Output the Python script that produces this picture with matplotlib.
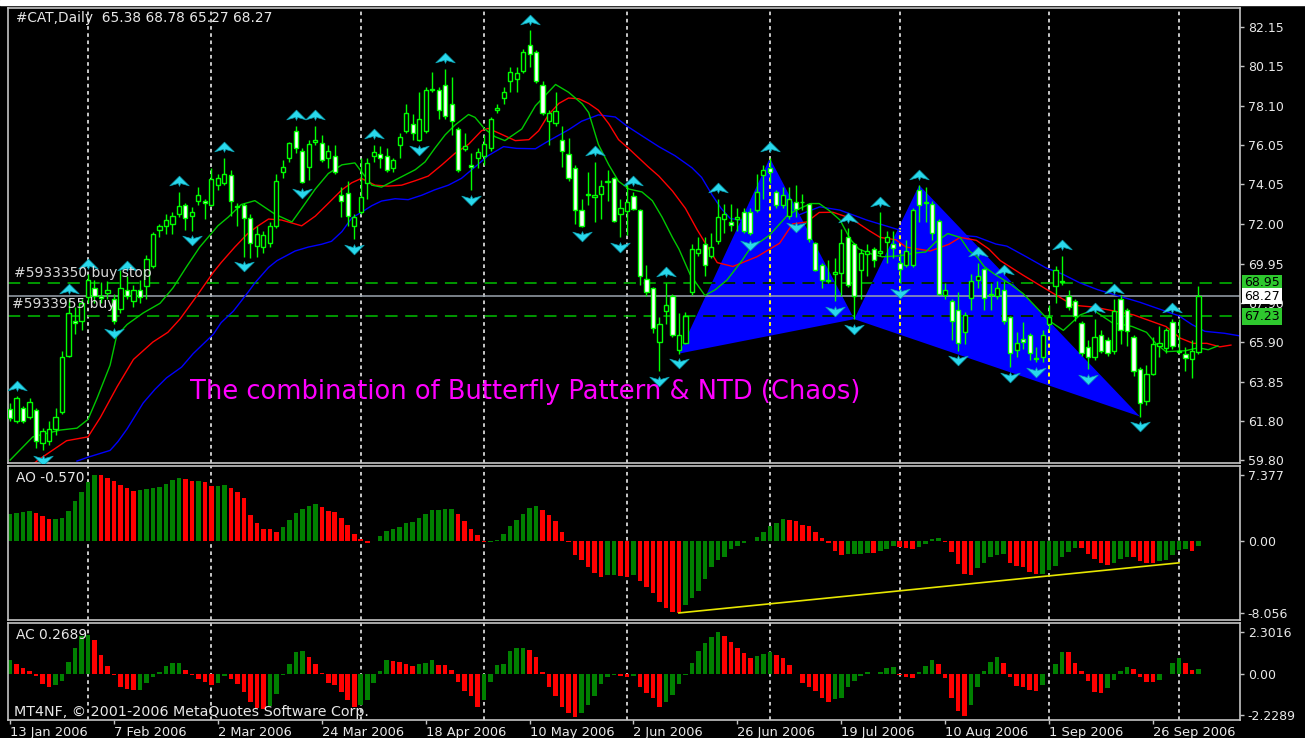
import matplotlib
matplotlib.use("Agg")
import matplotlib.pyplot as plt
import matplotlib.transforms as mtransforms
from matplotlib.path import Path
from matplotlib.patches import Polygon, Rectangle

# ---- data ----
opens = [
    62.45, 61.80, 62.50, 62.00, 62.40, 60.70, 60.80, 61.40, 62.30, 65.20, 67.00, 67.00,
    68.20, 68.70, 68.30, 68.45, 68.10, 67.60, 68.60, 68.00, 68.60, 68.80, 69.80, 71.70,
    71.90, 72.00, 72.50, 73.00, 72.40, 73.20, 73.20, 73.00, 74.00, 74.10, 74.50, 72.90,
    73.00, 72.30, 70.85, 70.80, 71.00, 71.90, 74.70, 75.40, 76.80, 75.75, 74.95, 76.25,
    76.20, 75.40, 75.50, 73.50, 73.60, 71.90, 72.60, 74.10, 75.50, 75.60, 75.50, 74.90,
    76.10, 76.80, 77.15, 76.35, 76.80, 78.90, 78.90, 79.15, 78.20, 76.90, 75.85, 75.05,
    75.40, 75.50, 75.90, 77.90, 78.50, 79.40, 79.50, 79.90, 81.25, 80.90, 79.15, 77.30,
    77.20, 76.35, 75.60, 74.90, 72.70, 73.50, 73.40, 73.55, 74.15, 74.35, 72.50, 72.65,
    73.45, 72.70, 69.15, 68.70, 65.90, 67.50, 68.30, 65.50, 65.85, 68.50, 70.50, 70.95,
    70.35, 71.10, 72.25, 72.10, 72.25, 72.60, 72.60, 72.70, 74.50, 74.90, 73.65, 72.95,
    72.40, 73.15, 73.15, 73.05, 71.00, 69.90, 69.10, 69.40, 69.45, 71.30, 70.95, 69.60,
    70.45, 70.70, 70.50, 71.05, 70.95, 70.00, 69.90, 69.90, 73.75, 73.10, 73.05, 72.15,
    68.35, 68.00, 67.55, 66.40, 68.15, 69.10, 69.65, 68.35, 68.30, 68.60, 67.20, 65.50,
    66.05, 66.25, 65.05, 65.10, 66.85, 68.80, 69.05, 68.30, 68.00, 66.90, 65.65, 65.10,
    66.25, 66.00, 65.45, 68.10, 67.55, 66.15, 64.50, 62.85, 64.25, 65.70, 65.60, 66.95,
    65.45, 65.30, 65.00, 65.38,
]
highs = [
    62.75, 63.10, 62.60, 63.00, 62.50, 61.45, 61.80, 62.50, 65.45, 68.10, 67.70, 68.10,
    69.40, 69.10, 69.00, 69.07, 68.40, 69.60, 69.30, 68.85, 69.10, 70.40, 71.60, 72.00,
    72.50, 72.60, 73.65, 73.10, 72.85, 73.90, 73.30, 74.90, 74.60, 75.40, 74.80, 73.06,
    73.10, 72.50, 71.90, 71.65, 72.10, 74.60, 75.30, 76.25, 77.05, 75.90, 76.35, 77.05,
    76.60, 76.10, 76.10, 73.90, 74.20, 72.50, 75.40, 75.40, 76.10, 76.00, 75.90, 75.40,
    76.70, 78.20, 77.65, 78.80, 79.05, 79.85, 79.05, 80.00, 79.60, 77.00, 76.70, 75.65,
    75.90, 76.60, 77.50, 78.20, 79.05, 80.10, 80.10, 81.05, 82.00, 81.00, 79.40, 77.90,
    78.80, 77.05, 76.45, 75.05, 73.30, 74.70, 75.20, 74.25, 74.80, 74.40, 73.30, 74.10,
    73.65, 72.75, 69.90, 68.75, 67.20, 68.95, 68.40, 67.40, 67.45, 70.95, 71.30, 71.30,
    71.55, 73.30, 73.05, 73.05, 72.83, 72.80, 72.83, 74.60, 75.05, 75.40, 73.77, 73.90,
    73.90, 74.00, 73.53, 73.10, 71.07, 70.00, 70.13, 70.25, 71.75, 71.77, 71.00, 70.70,
    70.95, 70.83, 72.60, 71.65, 71.65, 70.50, 71.18, 72.83, 74.00, 73.88, 73.18, 72.24,
    68.96, 68.13, 68.50, 67.43, 69.42, 70.00, 69.70, 68.96, 69.07, 69.07, 67.25, 66.40,
    66.95, 66.38, 65.65, 66.50, 67.80, 69.80, 70.35, 68.60, 68.13, 66.96, 66.00, 67.10,
    66.50, 66.14, 68.10, 68.35, 67.67, 66.26, 64.60, 64.73, 66.14, 66.75, 66.60, 67.08,
    67.08, 65.65, 66.00, 68.78,
]
lows = [
    61.80, 61.70, 61.70, 61.90, 60.40, 60.30, 60.60, 61.10, 62.20, 65.10, 66.30, 66.50,
    67.90, 67.90, 67.90, 68.13, 66.85, 67.40, 68.10, 67.70, 67.90, 68.10, 69.70, 71.30,
    71.50, 71.50, 72.35, 71.70, 71.65, 73.00, 72.25, 72.90, 73.75, 74.00, 72.40, 71.89,
    70.30, 70.25, 70.30, 70.50, 70.80, 71.80, 74.35, 75.20, 75.65, 74.10, 74.25, 76.10,
    75.20, 74.90, 74.60, 72.35, 71.90, 71.20, 72.50, 73.30, 75.20, 74.90, 74.70, 74.70,
    75.40, 76.70, 76.35, 76.30, 76.70, 78.80, 77.40, 77.40, 76.60, 74.70, 75.75, 73.75,
    74.90, 75.05, 75.75, 77.75, 78.20, 78.80, 78.80, 79.80, 80.10, 79.30, 77.60, 76.10,
    77.05, 74.95, 74.20, 72.00, 71.85, 72.95, 72.10, 72.25, 73.20, 72.10, 71.30, 71.40,
    72.70, 68.85, 68.25, 66.35, 64.40, 66.85, 66.15, 65.30, 65.80, 68.35, 70.35, 69.30,
    70.25, 70.95, 71.55, 71.65, 71.65, 71.55, 71.40, 72.60, 73.30, 74.10, 72.83, 72.80,
    72.24, 72.35, 72.71, 71.07, 69.55, 68.70, 68.96, 68.00, 68.30, 68.72, 67.08, 68.13,
    69.30, 69.78, 70.35, 70.00, 70.25, 68.95, 69.78, 69.78, 72.10, 72.12, 71.18, 68.32,
    68.13, 66.00, 65.45, 65.79, 67.55, 68.70, 67.55, 67.55, 68.13, 66.85, 64.60, 65.10,
    65.55, 64.97, 64.85, 64.85, 66.50, 67.90, 68.85, 67.55, 66.96, 65.20, 64.50, 64.95,
    65.32, 65.20, 65.30, 65.80, 65.67, 64.15, 62.05, 62.63, 64.20, 65.10, 65.32, 65.55,
    65.32, 64.40, 64.05, 65.27,
]
closes = [
    61.95, 63.00, 61.80, 62.80, 60.80, 61.30, 61.40, 62.00, 65.10, 67.40, 66.90, 67.90,
    69.10, 68.30, 68.15, 68.60, 67.00, 68.70, 68.30, 68.60, 68.20, 70.20, 71.50, 71.90,
    72.20, 72.40, 72.90, 72.30, 72.60, 73.50, 73.10, 74.30, 74.35, 74.60, 73.20, 72.85,
    72.30, 71.00, 71.50, 71.40, 71.90, 74.20, 74.95, 76.20, 75.90, 74.15, 76.10, 76.35,
    75.30, 75.75, 74.70, 73.20, 72.40, 72.35, 73.40, 75.15, 75.70, 75.40, 74.80, 75.30,
    76.50, 77.75, 76.70, 77.40, 78.90, 78.95, 77.90, 77.55, 77.30, 74.80, 76.00, 74.95,
    75.70, 76.10, 77.40, 78.00, 78.80, 79.85, 79.80, 80.90, 80.80, 79.40, 77.75, 77.75,
    77.85, 75.75, 74.35, 72.70, 71.90, 73.55, 73.50, 73.95, 74.20, 72.15, 72.80, 73.15,
    72.75, 69.30, 68.50, 66.60, 66.85, 67.80, 66.25, 66.25, 67.25, 70.70, 70.70, 69.90,
    70.80, 72.35, 72.50, 71.95, 72.35, 71.65, 71.55, 73.65, 74.80, 74.70, 73.00, 73.50,
    73.30, 72.75, 73.12, 71.20, 69.60, 69.10, 69.07, 69.50, 71.00, 68.85, 68.25, 70.50,
    70.60, 70.15, 70.60, 71.30, 70.75, 69.65, 70.60, 72.70, 72.95, 73.15, 71.55, 68.40,
    68.60, 67.00, 65.85, 67.30, 69.05, 69.30, 68.15, 68.40, 68.70, 67.00, 65.35, 65.85,
    65.90, 65.35, 65.00, 66.25, 67.20, 69.60, 69.00, 67.70, 67.25, 65.35, 65.10, 66.15,
    65.45, 65.35, 67.50, 66.50, 66.45, 64.40, 62.75, 64.25, 65.80, 65.85, 66.50, 65.70,
    65.40, 65.05, 65.45, 68.27,
]

ao = [
    2.98, 3.17, 3.24, 3.35, 3.09, 2.79, 2.42, 2.42, 2.53, 3.35, 4.47, 5.52,
    6.63, 7.38, 7.36, 7.08, 6.71, 6.26, 5.96, 5.59, 5.67, 5.77, 5.88, 6.04,
    6.34, 6.78, 7.08, 6.90, 6.71, 6.71, 6.63, 6.15, 6.15, 6.26, 5.89, 5.52,
    4.77, 2.91, 2.01, 1.30, 1.28, 1.00, 1.56, 2.30, 3.16, 3.60, 3.86, 4.08,
    3.75, 3.36, 3.22, 2.53, 1.76, 0.75, 0.19, -0.22, -0.03, 0.53, 1.15, 1.36,
    1.56, 1.99, 2.14, 2.53, 2.98, 3.42, 3.45, 3.56, 3.60, 3.05, 2.28, 1.37,
    0.61, -0.10, -0.08, 0.05, 0.76, 1.68, 2.39, 3.05, 3.71, 3.91, 3.45, 2.89,
    2.18, 1.02, -0.10, -1.52, -2.13, -2.94, -3.55, -4.06, -3.81, -3.78, -3.96, -4.06,
    -3.81, -4.47, -5.18, -5.84, -6.85, -7.51, -8.00, -8.05, -7.11, -6.35, -5.58, -4.31,
    -2.94, -2.13, -1.78, -0.91, -0.51, -0.25, -0.05, 0.41, 1.02, 1.68, 2.03, 2.44,
    2.39, 2.18, 1.78, 1.68, 1.02, 0.36, -0.25, -1.12, -1.52, -1.48, -1.45, -1.42,
    -1.32, -1.37, -1.12, -0.86, -0.61, -0.66, -0.76, -0.86, -0.66, -0.30, 0.20, 0.35,
    -0.10, -1.27, -2.54, -3.65, -3.81, -3.05, -2.44, -1.78, -1.60, -1.50, -2.44, -2.79,
    -2.94, -3.45, -3.71, -3.66, -3.30, -2.79, -1.78, -1.27, -0.76, -0.81, -1.42, -2.03,
    -2.44, -2.64, -2.44, -2.03, -1.78, -1.85, -2.29, -2.44, -2.46, -2.29, -2.10, -1.60,
    -1.04, -0.93, -1.12, -0.57,
]
ac = [
    0.80, 0.56, 0.35, 0.20, -0.07, -0.53, -0.71, -0.58, -0.35, 0.69, 1.42, 2.11,
    2.15, 1.89, 1.06, 0.44, -0.04, -0.71, -0.80, -0.86, -0.84, -0.49, -0.16, 0.11,
    0.44, 0.60, 0.61, 0.25, -0.04, -0.25, -0.44, -0.58, -0.47, -0.11, -0.25, -0.53,
    -0.98, -1.53, -1.85, -1.90, -1.75, -1.10, -0.05, 0.58, 1.22, 1.29, 0.94, 0.58,
    0.05, -0.48, -0.58, -0.98, -1.38, -1.77, -1.66, -1.42, -0.48, 0.18, 0.76, 0.74,
    0.65, 0.58, 0.48, 0.55, 0.62, 0.81, 0.52, 0.51, 0.25, -0.42, -0.92, -1.21,
    -1.79, -1.41, -0.42, 0.52, 0.57, 1.26, 1.44, 1.45, 1.31, 0.94, 0.12, -0.67,
    -1.17, -1.79, -2.11, -2.36, -2.11, -1.66, -1.17, -0.55, -0.17, -0.05, -0.10, -0.17,
    -0.10, -0.67, -1.04, -1.29, -1.79, -1.54, -1.12, -0.55, -0.05, 0.64, 1.26, 1.69,
    2.06, 2.30, 2.11, 1.76, 1.44, 1.19, 0.87, 1.02, 1.12, 1.24, 1.07, 0.89,
    0.50, 0.00, -0.47, -0.67, -0.92, -1.29, -1.54, -1.36, -1.29, -0.72, -0.37, -0.10,
    0.15, 0.02, 0.12, 0.32, 0.40, -0.05, -0.17, -0.22, 0.12, 0.45, 0.77, 0.57,
    -0.22, -1.29, -2.03, -2.28, -1.66, -0.72, 0.20, 0.69, 0.94, 0.64, -0.12, -0.62,
    -0.72, -0.84, -0.92, -0.60, 0.00, 0.57, 1.24, 1.20, 0.64, 0.20, -0.35, -0.99,
    -1.04, -0.74, -0.30, 0.20, 0.40, 0.27, -0.12, -0.42, -0.43, -0.30, 0.00, 0.60,
    0.88, 0.60, 0.22, 0.27,
]

# Alligator lines (bar position, price)
jaw_x = [10.3, 12, 15.4, 16.6, 18, 20.5, 22.3, 24.1, 26.4, 28.2, 31.3, 32.5, 34.4, 36.6, 37.7,
         39.8, 41.1, 43.9, 45.9, 48, 49.5, 51.1, 52.6, 54.1, 55.7, 57.2, 59.3, 61.3, 63.4, 65.4,
         67.5, 69.5, 71.6, 73.6, 76, 78, 80.9, 83, 86, 88, 90.6, 93.2, 95, 97.3, 99.9, 102.4, 105,
         106.5, 108.1, 109.5, 110.9, 113.9, 117.5, 120.1, 122.5, 124.7, 127.8, 131.9, 137, 141.1,
         145, 148.8, 151.8, 153.5, 156.5, 159.5, 162.1, 164.7, 167.5, 170.5, 174, 177, 180, 182,
         184, 187, 189.3]
jaw_y = [59.75, 59.95, 60.3, 60.75, 61.4, 62.75, 63.45, 64.05, 64.6, 65.3, 66.3, 66.9, 67.5,
         68.45, 68.95, 69.75, 70.1, 70.6, 70.8, 70.95, 71.1, 71.6, 72.3, 72.6, 72.94, 73.18,
         73.3, 73.25, 73.48, 73.76, 74.0, 74.35, 74.94, 75.52, 75.99, 75.9, 75.88, 76.3, 76.86,
         77.3, 77.63, 77.52, 77.05, 76.55, 75.99, 75.52, 74.9, 74.4, 73.5, 72.8, 72.28, 72.11,
         72.03, 72.28, 72.6, 72.88, 72.71, 72.2, 71.68, 71.51, 71.45, 71.34, 70.96, 70.85, 70.3,
         69.73, 69.4, 68.96, 68.6, 68.3, 67.95, 67.6, 67.25, 66.8, 66.45, 66.35, 66.22]
teeth_x = [0, 4.3, 8.7, 12, 13.9, 16.5, 19, 22, 24.3, 26.2, 28.8, 31.3, 32.5, 34.6, 36.6, 38.2,
           39.8, 41.8, 44.9, 47, 49, 51.1, 52.6, 54.1, 56.2, 58.2, 60.3, 62.4, 64.4, 66.5, 68.5,
           70.6, 72.6, 73.6, 75.2, 77.8, 79.9, 81.4, 82.9, 84.5, 86, 87.6, 89.1, 90.6, 92.2, 93.7,
           95.3, 96.8, 98.3, 99.9, 102, 104, 105.8, 108.9, 111.3, 113.5, 115, 118.5, 120.5, 122.7,
           124.6, 126.7, 129.4, 132.3, 134, 136.4, 138, 141.7, 144.6, 146.3, 148.8, 150.7, 152.5,
           156, 159.7, 163.7, 167, 170, 173, 175.5, 178, 180.2, 182.2, 184.3, 186.3, 188]
teeth_y = [58.6, 59.8, 60.8, 61.0, 62.0, 63.6, 65.0, 65.9, 66.4, 67.1, 68.3, 69.5, 70.0, 70.8,
           71.5, 71.9, 72.25, 72.2, 71.9, 72.4, 73.06, 73.76, 74.12, 74.35, 74.0, 73.95, 74.0,
           74.23, 74.47, 75.05, 75.64, 76.11, 76.81, 76.93, 76.7, 76.3, 76.35, 76.81, 77.63,
           78.22, 78.5, 78.46, 78.22, 77.87, 77.17, 76.35, 75.88, 75.41, 74.94, 74.47, 73.7, 72.8,
           71.7, 70.0, 69.8, 70.1, 70.3, 71.0, 72.0, 72.1, 72.59, 72.6, 72.3, 71.65, 71.3, 71.18,
           70.8, 70.6, 70.95, 71.3, 71.15, 70.71, 70.1, 69.35, 68.6, 67.8, 67.7, 67.5, 67.3, 67.0,
           66.7, 66.1, 65.83, 65.83, 65.65, 65.74]
lips_x = [0, 3.5, 7.7, 10.3, 12, 13.4, 15.4, 16.4, 18, 20.5, 23.1, 25.1, 27.2, 29.2, 32, 33.6,
          35.6, 37.7, 40.8, 43.4, 44.9, 47, 49, 51.1, 53.1, 54.1, 55.7, 57.2, 59.8, 62.4, 63.9,
          65.4, 67, 68.5, 70.6, 71.6, 73.1, 74.7, 76.2, 78.8, 80.9, 84, 86, 88.1, 89.1, 90.6, 92.2,
          93.7, 95.3, 97.3, 98.9, 100.4, 102, 103, 104.7, 107, 108.6, 110.4, 112.7, 113.9, 116.9,
          119.6, 121, 123.3, 124.6, 126.1, 127.8, 129.4, 130.7, 132.6, 134.3, 137, 139.4, 141,
          142.5, 144.4, 146.3, 147.7, 148.9, 150, 151.6, 154, 156, 158, 160, 162.2, 164.8, 166.8,
          169.7, 172.8, 175, 176.5, 178, 181, 183, 184.5, 186]
lips_y = [59.8, 61.0, 61.35, 61.45, 61.9, 63.0, 64.7, 66.2, 66.8, 67.4, 67.9, 68.7, 69.8, 70.8,
          71.9, 72.35, 73.0, 73.2, 72.5, 72.1, 72.8, 73.8, 74.6, 75.05, 75.15, 74.7, 74.0, 73.9,
          74.35, 74.8, 75.2, 75.9, 76.6, 77.1, 77.65, 77.5, 76.9, 76.5, 76.3, 76.9, 78.1, 79.2,
          78.8, 78.2, 77.75, 76.1, 75.05, 74.2, 73.8, 73.65, 73.2, 72.35, 71.3, 70.7, 69.4, 68.3,
          68.6, 69.1, 70.1, 70.7, 71.4, 72.4, 72.7, 73.05, 73.05, 72.7, 72.2, 71.2, 70.7, 70.45,
          70.3, 70.35, 70.5, 70.55, 71.05, 71.5, 71.3, 70.6, 70.3, 69.8, 69.4, 68.9, 68.4, 67.7,
          67.0, 66.5, 67.3, 67.55, 66.9, 66.7, 66.4, 65.8, 65.4, 65.45, 65.6, 65.5, 65.7]

fractal_up = [1, 9, 12, 18, 26, 33, 44, 47, 56, 67, 80, 90, 96, 101, 109, 117, 129, 134, 140,
              149, 153, 162, 167, 170, 179]
fractal_dn = [5, 16, 28, 36, 45, 53, 63, 71, 88, 94, 100, 103, 114, 121, 127, 130, 137, 146,
              154, 158, 166, 174]

# butterfly pivots X, A, B, C, D (bar index)
bfly_x, bfly_a, bfly_b, bfly_c, bfly_d = 103, 117, 130, 140, 174

month_starts = [12, 31, 54, 73, 95, 117, 137, 160, 180]
date_ticks = [0, 16, 32, 48, 64, 80, 96, 112, 128, 144, 160, 176]
date_labels = ["13 Jan 2006", "7 Feb 2006", "2 Mar 2006", "24 Mar 2006", "18 Apr 2006",
               "10 May 2006", "2 Jun 2006", "26 Jun 2006", "19 Jul 2006", "10 Aug 2006",
               "1 Sep 2006", "26 Sep 2006"]

price_ticks = [82.15, 80.15, 78.10, 76.05, 74.05, 72.00, 69.95, 67.90, 65.90, 63.85, 61.80, 59.80]
buy_stop, buy_open = 68.95, 67.23
ao_trend_x = [103, 180]
ao_trend_y = [-8.05, -2.45]

# ---- layout ----
W, H = 1305, 738
fig = plt.figure(figsize=(W / 100, H / 100), dpi=100, facecolor="black")
fig.patches.append(Rectangle((0, 1 - 5 / H), 1, 5 / H, transform=fig.transFigure,
                             color="white", zorder=0))


def frame(top, bottom, left=8, right=1240):
    return [left / W, 1 - bottom / H, (right - left) / W, (bottom - top) / H]


ax = fig.add_axes(frame(8, 463))
ax_ao = fig.add_axes(frame(466, 620))
ax_ac = fig.add_axes(frame(623, 720))

FG = "#e8e8e8"
FRAME = "#c4c4c4"
LIME = "#00ff00"
for a in (ax, ax_ao, ax_ac):
    a.set_facecolor("black")
    a.set_xlim(-0.32, 189.4)
    for s in a.spines.values():
        s.set_color(FRAME)
        s.set_linewidth(1.2)
    a.yaxis.tick_right()
    a.tick_params(axis="y", direction="out", length=3, width=1, color=FRAME,
                  labelcolor=FG, labelsize=9, pad=2.5, left=False, labelleft=False)
    a.tick_params(axis="x", bottom=False, labelbottom=False)
    for s in month_starts:
        a.axvline(s, color="#d8d8d8", ls=(0, (2, 2)), lw=1.3, zorder=1.2)

ax.set_ylim(59.65, 83.15)
ax.set_yticks(price_ticks)
ax.set_yticklabels([f"{t:.2f}" for t in price_ticks])

ax_ao.set_ylim(-8.84, 8.38)
ax_ao.set_yticks([7.377, 0, -8.056])
ax_ao.set_yticklabels(["7.377", "0.00", "-8.056"])

ax_ac.set_ylim(-2.50, 2.81)
ax_ac.set_yticks([2.3016, 0, -2.2289])
ax_ac.set_yticklabels(["2.3016", "0.00", "-2.2289"])
ax_ac.set_xticks(date_ticks)
ax_ac.set_xticklabels(date_labels, ha="left")
ax_ac.tick_params(axis="x", bottom=True, labelbottom=True, direction="out", length=3,
                  width=1, color=FRAME, labelcolor=FG, labelsize=9.4, pad=1)

n = len(closes)
idx = list(range(n))

# butterfly triangles
tri1 = Polygon([[bfly_x, lows[bfly_x]], [bfly_a, highs[bfly_a]], [bfly_b, lows[bfly_b]]],
               closed=True, fc="#0000ff", ec="none", zorder=1)
tri2 = Polygon([[bfly_b, lows[bfly_b]], [bfly_c, highs[bfly_c]], [bfly_d, lows[bfly_d]]],
               closed=True, fc="#0000ff", ec="none", zorder=1)
ax.add_patch(tri1)
ax.add_patch(tri2)

# order lines
dash = (0, (8, 5))
ax.axhline(buy_stop, color="#00c000", ls=dash, lw=1.1, zorder=1.3)
ax.axhline(buy_open, color="#00c000", ls=dash, lw=1.1, zorder=1.3)
ax.axhline(closes[-1], color="#9aa4ae", lw=1.1, zorder=1.3)

# XOR-like look where lines cross the blue fill
for tri in (tri1, tri2):
    for s in month_starts:
        ln = ax.axvline(s, color="#ffff00", ls=(0, (2, 2)), lw=1.3, zorder=1.25)
        ln.set_clip_path(tri)
    for p in (buy_stop, buy_open):
        ln = ax.axhline(p, color="black", ls=dash, lw=1.1, zorder=1.35)
        ln.set_clip_path(tri)

# alligator
ax.plot(jaw_x, jaw_y, color="#0000ff", lw=1.0, zorder=2)
ax.plot(teeth_x, teeth_y, color="#ff0000", lw=1.0, zorder=2)
ax.plot(lips_x, lips_y, color="#00c800", lw=1.0, zorder=2)

# candles
ax.vlines(idx, lows, highs, color=LIME, lw=1.0, zorder=3)
body_bottom = [min(o, c) for o, c in zip(opens, closes)]
body_height = [max(abs(c - o), 0.03) for o, c in zip(opens, closes)]
body_fill = ["black" if c >= o else "white" for o, c in zip(opens, closes)]
ax.bar(idx, body_height, bottom=body_bottom, width=0.64, color=body_fill,
       edgecolor=LIME, linewidth=1.0, zorder=3.1)

# fractal arrows
up_arrow = Path([(0, 0.55), (1, -0.45), (0.12, -0.2), (0, -0.5), (-0.12, -0.2), (-1, -0.45),
                 (0, 0.55)], [Path.MOVETO] + [Path.LINETO] * 5 + [Path.CLOSEPOLY])
dn_arrow = Path([(x, -y) for x, y in up_arrow.vertices], up_arrow.codes)
ax.plot(fractal_up, [highs[i] + 0.55 for i in fractal_up], ls="none", marker=up_arrow,
        ms=14, color="#2ad8ec", mec="#0a9fb0", mew=0.5, zorder=4)
ax.plot(fractal_dn, [lows[i] - 0.5 for i in fractal_dn], ls="none", marker=dn_arrow,
        ms=14, color="#2ad8ec", mec="#0a9fb0", mew=0.5, zorder=4)

# price labels on the right scale
blend = mtransforms.blended_transform_factory(ax.transAxes, ax.transData)
for p, fc in ((buy_stop, "#2ec82e"), (closes[-1], "white"), (buy_open, "#2ec82e")):
    ax.text(1.0035, p, f"{p:.2f}", transform=blend, ha="left", va="center", fontsize=9,
            color="black", zorder=5,
            bbox=dict(boxstyle="square,pad=0.15", fc=fc, ec="none"))

# AO / AC histograms (green when rising, red when falling)
ao_col = ["#008000" if i == 0 or ao[i] >= ao[i - 1] else "#ff0000" for i in idx]
ac_col = ["#008000" if i == 0 or ac[i] >= ac[i - 1] else "#ff0000" for i in idx]
ax_ao.bar(idx, ao, width=0.7, color=ao_col, zorder=2)
ax_ao.plot(ao_trend_x, ao_trend_y, color="#e6e600", lw=1.2, zorder=3)
ax_ac.bar(idx, ac, width=0.7, color=ac_col, zorder=2)


# ---- texts ----
def px(x, y):
    return x / W, 1 - y / H


fig.text(*px(16, 18), f"#CAT,Daily  {opens[-1]:.2f} {highs[-1]:.2f} {lows[-1]:.2f} {closes[-1]:.2f}",
         color=FG, fontsize=9.9, va="center")
fig.text(*px(14, 273), "#5933350 buy stop", color="#d8d8d8", fontsize=10, va="center")
fig.text(*px(12, 304), "#5933955 buy", color="#d8d8d8", fontsize=10, va="center")
fig.text(*px(16, 478), "AO -0.570", color=FG, fontsize=9.9, va="center")
fig.text(*px(16, 635), "AC 0.2689", color=FG, fontsize=9.9, va="center")
fig.text(*px(14, 712), "MT4NF, \u00a9 2001-2006 MetaQuotes Software Corp.", color=FG,
         fontsize=10.3, va="center")
fig.text(*px(190, 392), "The combination of Butterfly Pattern & NTD (Chaos)", color="#ff00ff",
         fontsize=18.5, va="center", family="DejaVu Sans")

fig.savefig("out.png", dpi=100, facecolor="black")
